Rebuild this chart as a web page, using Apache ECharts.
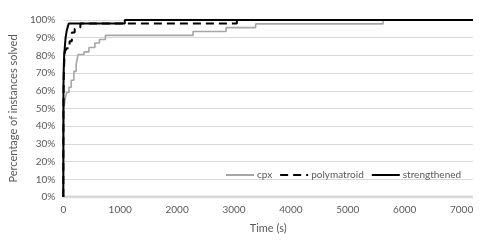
<!DOCTYPE html>
<html><head><meta charset="utf-8">
<script src="https://cdn.jsdelivr.net/npm/echarts@6/dist/echarts.min.js"></script>
<style>html,body{margin:0;padding:0;background:#fff}#c{width:494px;height:251px}</style>
</head><body><div id="c"></div>
<script>
var xTicks = [0, 1000, 2000, 3000, 4000, 5000, 6000, 7000];
var yTicks = ['0%','10%','20%','30%','40%','50%','60%','70%','80%','90%','100%'];
var seriesNames = ['cpx', 'polymatroid', 'strengthened'];
// [time (s), percentage solved]
var cpx = [[0,0],[5,40],[12,50],[30,55],[57,59],[99,62],[139,66],[186,71],[226,75],[260,80.5],[365,82],[450,84.5],[555,87],[635,89],[740,91.3],[2280,93.5],[2860,95.7],[3380,97.8],[5620,100],[7200,100]];
var polymatroid = [[0,0],[2,50],[8,70],[25,82],[60,84],[110,88],[150,93],[200,95],[260,96],[300,98],[3050,100],[7200,100]];
var strengthened = [[0,0],[1,50],[3,63],[8,73],[15,80],[25,84],[40,90],[60,94],[95,98],[1080,100],[7200,100]];

var font = 'Lato, "Open Sans", sans-serif';
var chart = echarts.init(document.getElementById('c'), null, {renderer:'canvas'});
chart.setOption({
  animation: false,
  backgroundColor: '#ffffff',
  grid: {left: 59, right: 21, top: 20, bottom: 54},
  legend: {
    left: 220, top: 165,
    itemWidth: 28, itemHeight: 10, itemGap: 7,
    itemStyle: {opacity: 0},
    textStyle: {color: '#595959', fontSize: 10, fontFamily: font, padding: [0,0,0,-2]},
    data: seriesNames
  },
  xAxis: {
    type: 'value', min: 0, max: 7200, interval: 1000,
    name: 'Time (s)', nameLocation: 'middle', nameGap: 26,
    nameTextStyle: {color: '#595959', fontSize: 11, fontFamily: font},
    axisLine: {show: false},
    axisTick: {show: false},
    splitLine: {show: false},
    axisLabel: {color: '#595959', fontSize: 10, fontFamily: font, margin: 8, showMaxLabel: false,
      formatter: function(v){ return xTicks.indexOf(v) >= 0 ? String(v) : ''; }}
  },
  yAxis: {
    type: 'value', min: 0, max: 100, interval: 10,
    name: 'Percentage of instances solved', nameLocation: 'middle', nameGap: 38,
    nameTextStyle: {color: '#595959', fontSize: 11, fontFamily: font},
    axisLine: {show: false},
    axisTick: {show: false},
    splitLine: {lineStyle: {color: '#d9d9d9', width: 1}},
    axisLabel: {color: '#595959', fontSize: 10, fontFamily: font, margin: 8,
      formatter: function(v){ return yTicks[Math.round(v/10)]; }}
  },
  series: [
    {type: 'line', name: 'zeroLine', data: [[0,0],[7200,0]], symbol: 'none', silent: true,
     lineStyle: {color: '#d9d9d9', width: 3}, z: 1},
    {type: 'line', name: 'cpx', data: cpx, step: 'end', symbol: 'none',
     itemStyle: {color: '#a6a6a6'}, lineStyle: {color: '#a6a6a6', width: 1.6}, z: 2},
    {type: 'line', name: 'polymatroid', data: polymatroid, step: 'end', symbol: 'none',
     itemStyle: {color: '#000'}, lineStyle: {color: '#000', width: 2, type: [8, 5]}, z: 3},
    {type: 'line', name: 'strengthened', data: strengthened, step: 'end', symbol: 'none',
     itemStyle: {color: '#000'}, lineStyle: {color: '#000', width: 2}, z: 4}
  ]
});
</script></body></html>
